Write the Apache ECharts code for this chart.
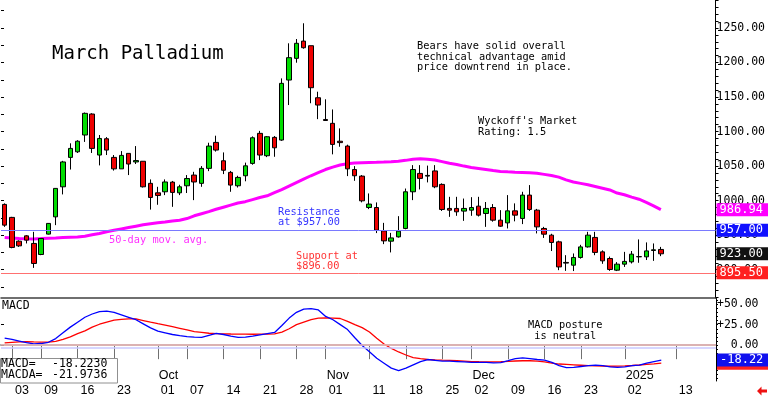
<!DOCTYPE html>
<html><head><meta charset="utf-8">
<script src="https://cdn.jsdelivr.net/npm/echarts@6/dist/echarts.min.js"></script>
<style>html,body{margin:0;padding:0;background:#fff}#c{width:768px;height:397px}</style>
</head><body><div id="c"></div>
<script>
// ---------- DATA ----------
const dates = [
 '2024-08-30',
 '2024-09-03','2024-09-04','2024-09-05','2024-09-06','2024-09-09','2024-09-10','2024-09-11','2024-09-12','2024-09-13',
 '2024-09-16','2024-09-17','2024-09-18','2024-09-19','2024-09-20','2024-09-23','2024-09-24','2024-09-25','2024-09-26','2024-09-27','2024-09-30',
 '2024-10-01','2024-10-02','2024-10-03','2024-10-04','2024-10-07','2024-10-08','2024-10-09','2024-10-10','2024-10-11',
 '2024-10-14','2024-10-15','2024-10-16','2024-10-17','2024-10-18','2024-10-21','2024-10-22','2024-10-23','2024-10-24','2024-10-25',
 '2024-10-28','2024-10-29','2024-10-30','2024-10-31',
 '2024-11-01','2024-11-04','2024-11-05','2024-11-06','2024-11-07','2024-11-08','2024-11-11','2024-11-12','2024-11-13','2024-11-14','2024-11-15',
 '2024-11-18','2024-11-19','2024-11-20','2024-11-21','2024-11-22','2024-11-25','2024-11-26','2024-11-27','2024-11-29',
 '2024-12-02','2024-12-03','2024-12-04','2024-12-05','2024-12-06','2024-12-09','2024-12-10','2024-12-11','2024-12-12','2024-12-13',
 '2024-12-16','2024-12-17','2024-12-18','2024-12-19','2024-12-20','2024-12-23','2024-12-24','2024-12-26','2024-12-27','2024-12-30','2024-12-31',
 '2025-01-02','2025-01-03','2025-01-06','2025-01-07','2025-01-08','2025-01-09','2025-01-10','2025-01-13','2025-01-14','2025-01-15','2025-01-16','2025-01-17','2025-01-21'
];
const tickDates = ['2024-09-03','2024-09-09','2024-09-16','2024-09-23','2024-10-01','2024-10-07','2024-10-14','2024-10-21','2024-10-28',
 '2024-11-01','2024-11-11','2024-11-18','2024-11-25','2024-12-02','2024-12-09','2024-12-16','2024-12-23','2025-01-02','2025-01-13'];
const monthDates = ['2024-10-01','2024-11-01','2024-12-02','2025-01-02'];
const monthNames = ['Oct','Nov','Dec','2025'];

const opens = [994.5,975.7,941.3,949,938,922,951.5,976.5,1020,1062.6,1070.7,1095,1125.4,1066,1089.6,1062.6,1046,1068.4,1056,1057,
 1025,1011.3,1012.8,1026.8,1011.3,1021.5,1037,1025,1046.7,1084.3,1057.7,1040.9,1021.5,1036,1053.9,1097.4,1065,1091.6,1087.7,1174.6,
 1206,1231,1224.3,1149,1117.5,1111.9,1086,1079,1045,1035.5,990,990,956.2,941.3,947.5,959.7,1012.8,1039.4,1035.5,1043,
 1023.5,988.7,988.7,984.8,986.2,992,981.4,990,971.7,967.8,985.2,974.2,1008,986.2,959.7,950,940.3,910.5,906.5,917.7,
 933,946.7,925.8,916.2,899.3,908,911.3,919,918.6,927.8,929.3];
const closes = [964.5,932.2,934.5,942.8,909,945.2,967,1017.7,1056,1075.6,1086,1126.4,1075.6,1090,1073.2,1046,1065.5,1053,1058,1020,
 1004.6,1007.5,1027,1011.9,1020,1032,1027,1046.7,1079,1073.2,1044,1022.5,1033.6,1050.4,1091,1066,1092.5,1076.5,1169.8,1207,
 1227.8,1221.4,1163.5,1138.4,1116,1081.4,1084,1046,1036,999.7,995,957.2,941.7,946,955.8,1012.8,1045,1032.2,1036.5,1020,
 987.2,986.2,983.8,988.7,990,979,988.7,971.7,963,985.2,979,1008,987.2,962,951.4,939.4,904,909.5,917.7,933,
 950,925,912.8,900.3,908,912,922.5,918.6,927.2,928.8,923];
const lows = [962,931,933,938,902.6,921,951,964.5,1009,1045,1069,1085,1069,1051,1066,1043.5,1046,1037,1053,1019,
 987,994,1008,991,1008,1011,1000.7,1020,1042.7,1071,1038.4,1012.8,1019,1028,1052,1058.7,1063,1063.5,1086.5,1138.4,
 1199.7,1220,1141,1118,1115.5,1067,1078,1035.5,1028.7,997.5,987.7,953,937,925,946.5,958.5,1000.7,1016.2,1026.4,1018,
 985,976.5,978,970.7,978,977,962,969.5,962,959.7,970,966,985,952.5,946,927,899.3,898.3,898,916,
 932,921,908.5,898.3,898,904,909,910,914,912.8,919.6];
const highs = [996,976.5,942.5,950,954.8,946,967.5,1018,1057.6,1083,1087.5,1127.6,1126.5,1095,1092,1066,1071.7,1068.4,1079,1057,
 1030.7,1020,1030.7,1028.5,1023,1037,1041.7,1050,1083.8,1094,1069.8,1043,1036,1055,1093,1101,1093.5,1093.5,1177,1227.8,
 1234,1256.8,1224.3,1157.7,1146.7,1132,1104.6,1081,1050,1037,1010.4,997.4,967.8,953.3,977.5,1017.5,1051.4,1051.4,1050.7,1051.4,
 1025,1005.5,1005.5,1003,1005,1005.5,998,995,986.2,1008,996,1012.8,1022.5,988,962,952,942,921,923.5,936,
 954.8,954.8,928,919,911,925.8,927,943.8,939.5,938,933];
const ma50 = [946.6,946,945.3,944.8,944.6,945,945.6,946,946.5,947,947.3,948.5,950.5,952.5,955,957,959,961,963,965,
 966.5,968,969,970.5,971.7,974,978,981,984,987.5,990.5,993.5,996.5,998.5,1001.5,1004.5,1007,1011.5,1016,1021,
 1026,1031,1036,1040.5,1045,1048.5,1051.5,1053.5,1054.5,1055,1055.3,1055.5,1055.8,1056.2,1057,1058.3,1059.8,1060.6,1060,1058.7,
 1056.5,1054,1052.3,1050,1048,1046.5,1045,1043.5,1042.3,1041.7,1041.2,1040.8,1040.3,1039.5,1038,1036.5,1034,1030,1027,1025,
 1023,1020.5,1018,1015.5,1011,1008.5,1005,1002,997.5,992.5,986.94];
const macd = [8.7,7,5,3,1.5,2,3.5,8,15,22,28,34,38,41,41.5,40,37,34,31,26,
 21,17,15,13,11.5,10.5,9.8,9.5,12,14.3,13,11,9.5,9.8,11,12.5,14,15.5,24,33,
 40,44,44.5,43,35,31,25,19,9,-0.5,-8,-16,-22,-28,-31,-28,-24,-20,-17.5,-18.5,
 -19.5,-19.5,-20,-20.5,-21,-21,-21,-21.5,-21.4,-19,-16.5,-15.5,-16.5,-17.5,-18.3,-21,-25,-27.4,-27,-26,
 -25,-24.3,-25,-26.5,-27,-26.5,-25,-24.3,-22,-20,-18.223];
const macda = [2.7,3.5,4,4.3,4,3.8,3.6,4.5,7,10,14,17.4,22,25.5,28,30.5,31.5,32,32,30,
 28,26.2,24.5,22.5,20.5,18.5,16.5,15.5,14.5,14,13.8,13.6,13.5,13.4,13.3,13.4,13.5,13.7,16,20,
 25,28,31,33,33.3,33,32.5,29,25,21.4,16,8.5,1.5,-4,-8.3,-12,-15.1,-16.5,-17.5,-18,
 -18.3,-18.5,-19,-19.5,-20,-20.2,-20.3,-20.3,-20.2,-19.8,-19.3,-19,-19,-19.5,-20.5,-22,-23,-23.5,-24,-24.5,
 -25,-25.3,-25.5,-25.7,-25.5,-25.3,-24.8,-24.2,-23.5,-22.8,-21.9736];
const priceLabels = [900,950,1000,1050,1100,1150,1200,1250];
const macdLabels = [0,25,50];
const resistance = 957.00;
const support = 895.50;
const lastMA = 986.94;
const lastClose = 923.00;
const lastMACD = -18.2230;
const lastMACDA = -21.9736;

// ---------- CHART ----------
const MONO = '"DejaVu Sans Mono", monospace';
const SANS = '"Liberation Sans", Arial, sans-serif';
const range = (a, b, s) => { const r = []; for (let v = a; v <= b + 1e-9; v += s) r.push(+v.toFixed(4)); return r; };
const candleData = opens.map((o, i) => [o, closes[i], lows[i], highs[i]]);
const HIDDEN = { color: 'rgba(255,255,255,0)', width: 1, type: 'solid' };

function badge(value, text, bg, lineStyle) {
  return {
    yAxis: value,
    lineStyle: lineStyle || HIDDEN,
    label: {
      show: true, position: 'end', distance: 1, formatter: text,
      backgroundColor: bg, color: '#fff', fontFamily: MONO, fontSize: 12,
      padding: [1, 2, 0, 3], width: 47, lineHeight: 12
    }
  };
}

const chart = echarts.init(document.getElementById('c'), null, { renderer: 'canvas' });
const tickFn = (i, v) => tickDates.includes(v);
const monthFn = (i, v) => monthDates.includes(v);

chart.setOption({
  animation: false,
  backgroundColor: '#fff',
  grid: [
    { left: 1, right: 52, top: 0, height: 298 },
    { left: 1, right: 52, top: 298, height: 85 }
  ],
  xAxis: [
    { gridIndex: 0, type: 'category', data: dates, show: false },
    { gridIndex: 1, type: 'category', data: dates, position: 'bottom',
      axisLine: { lineStyle: { color: '#404040', width: 1.5 } },
      axisTick: { show: true, alignWithLabel: true, interval: tickFn, length: 14, lineStyle: { color: '#707070' } },
      axisLabel: { interval: tickFn, formatter: v => v.slice(8), align: 'left', padding: [0, 0, 0, 3], margin: 3,
        fontFamily: SANS, fontSize: 12.5, color: '#000' } },
    { gridIndex: 1, type: 'category', data: dates, position: 'bottom',
      axisLine: { show: false }, axisTick: { show: false },
      axisLabel: { inside: true, interval: monthFn, formatter: v => monthNames[monthDates.indexOf(v)] || '',
        align: 'left', padding: [0, 0, 0, 1], margin: -1, fontFamily: SANS, fontSize: 12.5, color: '#000' } },
    { gridIndex: 1, type: 'category', data: dates, position: 'top',
      axisLine: { lineStyle: { color: '#404040', width: 1.5 } }, axisTick: { show: false }, axisLabel: { show: false } }
  ],
  yAxis: [
    { gridIndex: 0, type: 'value', position: 'right', min: 859, max: 1290.5, splitLine: { show: false },
      axisLine: { show: true, lineStyle: { color: '#000' } },
      axisTick: { show: true, customValues: range(860, 1290, 10), length: 3, lineStyle: { color: '#000' } },
      axisLabel: { customValues: priceLabels, formatter: v => v.toFixed(2), margin: 1,
        fontFamily: MONO, fontSize: 11.5, color: '#000' } },
    { gridIndex: 0, type: 'value', position: 'left', min: 859, max: 1290.5, splitLine: { show: false },
      axisLine: { show: false },
      axisTick: { show: true, inside: true, customValues: range(875, 1275, 25), length: 3, lineStyle: { color: '#000' } },
      axisLabel: { show: false } },
    { gridIndex: 1, type: 'value', position: 'right', min: -43.7, max: 57.5, splitLine: { show: false },
      axisLine: { show: true, lineStyle: { color: '#000' } },
      axisTick: { show: true, customValues: range(-40, 55, 5), length: 2, lineStyle: { color: '#000' } },
      axisLabel: { customValues: macdLabels, formatter: v => v > 0 ? '+' + v.toFixed(2) : '  ' + v.toFixed(2), margin: 1,
        fontFamily: MONO, fontSize: 11.5, color: '#000' } },
    { gridIndex: 1, type: 'value', position: 'left', min: -43.7, max: 57.5, splitLine: { show: false },
      axisLine: { show: false },
      axisTick: { show: true, inside: true, customValues: [0, 25], length: 3, lineStyle: { color: '#000' } },
      axisLabel: { show: false } }
  ],
  series: [
    { type: 'line', name: '50-day', xAxisIndex: 0, yAxisIndex: 0, data: ma50, showSymbol: false,
      lineStyle: { color: '#ff00ff', width: 3 }, z: 1,
      markLine: { symbol: ['none', 'none'], silent: true, data: [ badge(lastMA, lastMA.toFixed(2), '#ff00ff') ] } },
    { type: 'candlestick', xAxisIndex: 0, yAxisIndex: 0, data: candleData, barWidth: 5, z: 3,
      itemStyle: { color: '#00dd00', color0: '#ee0000', borderColor: '#000', borderColor0: '#000', borderWidth: 1 },
      markLine: { symbol: ['none', 'none'], silent: true, data: [
        badge(resistance, resistance.toFixed(2), '#1010ff', { color: '#7a7aff', width: 1, type: 'solid' }),
        badge(support, support.toFixed(2), '#ff2020', { color: '#ff7070', width: 1, type: 'solid' }),
        badge(lastClose, lastClose.toFixed(2), '#111')
      ] } },
    { type: 'line', name: 'MACDA', xAxisIndex: 1, yAxisIndex: 2, data: macda, showSymbol: false,
      lineStyle: { color: '#ff0000', width: 1.3 }, z: 2,
      markLine: { symbol: ['none', 'none'], silent: true, data: [
        { yAxis: 0, lineStyle: { color: '#ffc8c8', width: 1.5, type: 'solid' }, label: { show: false } },
        { yAxis: -2.8, lineStyle: { color: '#c8c8ff', width: 1.5, type: 'solid' }, label: { show: false } },
        badge(lastMACDA, lastMACDA.toFixed(2), '#ff2020')
      ] } },
    { type: 'line', name: 'MACD', xAxisIndex: 1, yAxisIndex: 2, data: macd, showSymbol: false,
      lineStyle: { color: '#0000ff', width: 1.3 }, z: 3,
      markLine: { symbol: ['none', 'none'], silent: true, data: [ badge(lastMACD, lastMACD.toFixed(2), '#1010ee') ] } }
  ],
  graphic: [
    { type: 'text', x: 52, y: 54, style: { text: 'March Palladium', font: '19px ' + MONO, fill: '#000', verticalAlign: 'middle' } },
    { type: 'text', x: 417, y: 57, style: { text: 'Bears have solid overall\ntechnical advantage amid\nprice downtrend in place.',
      font: '10.3px ' + MONO, fill: '#000', lineHeight: 10.7, verticalAlign: 'middle' } },
    { type: 'text', x: 478, y: 126.5, style: { text: "Wyckoff's Market\nRating: 1.5", font: '10.3px ' + MONO, fill: '#000', lineHeight: 11, verticalAlign: 'middle' } },
    { type: 'text', x: 278, y: 217.5, style: { text: 'Resistance\nat $957.00', font: '10.3px ' + MONO, fill: '#3535ff', lineHeight: 10, verticalAlign: 'middle' } },
    { type: 'text', x: 296, y: 261.5, style: { text: 'Support at\n$896.00', font: '10.3px ' + MONO, fill: '#ff3535', lineHeight: 10.2, verticalAlign: 'middle' } },
    { type: 'text', x: 109, y: 240.5, style: { text: '50-day mov. avg.', font: '10.3px ' + MONO, fill: '#ff30ff', verticalAlign: 'middle' } },
    { type: 'text', x: 528, y: 331, style: { text: 'MACD posture\n is neutral', font: '10.3px ' + MONO, fill: '#000', lineHeight: 10.8, verticalAlign: 'middle' } },
    { type: 'text', x: 2, y: 306, style: { text: 'MACD', font: '11.5px ' + MONO, fill: '#000', verticalAlign: 'middle' } },
    { type: 'rect', shape: { x: 0.5, y: 358.5, width: 117, height: 24.5 }, style: { fill: '#fff', stroke: '#909090', lineWidth: 1 }, z: 10 },
    { type: 'text', x: 1, y: 363.7, z: 11, style: { text: 'MACD=', font: '11.5px ' + MONO, fill: '#000', verticalAlign: 'middle' } },
    { type: 'text', x: 52, y: 363.7, z: 11, style: { text: lastMACD.toFixed(4), font: '11.5px ' + MONO, fill: '#000', verticalAlign: 'middle' } },
    { type: 'text', x: 1, y: 375.5, z: 11, style: { text: 'MACDA=', font: '11.5px ' + MONO, fill: '#000', verticalAlign: 'middle' } },
    { type: 'text', x: 52, y: 375.5, z: 11, style: { text: lastMACDA.toFixed(4), font: '11.5px ' + MONO, fill: '#000', verticalAlign: 'middle' } },
    { type: 'polygon', shape: { points: [[757, 391], [761.5, 386.5], [761.5, 389.5], [767, 389.5], [767, 392.5], [761.5, 392.5], [761.5, 395.5]] },
      style: { fill: '#ee1111' } }
  ]
});
</script>
</body></html>
